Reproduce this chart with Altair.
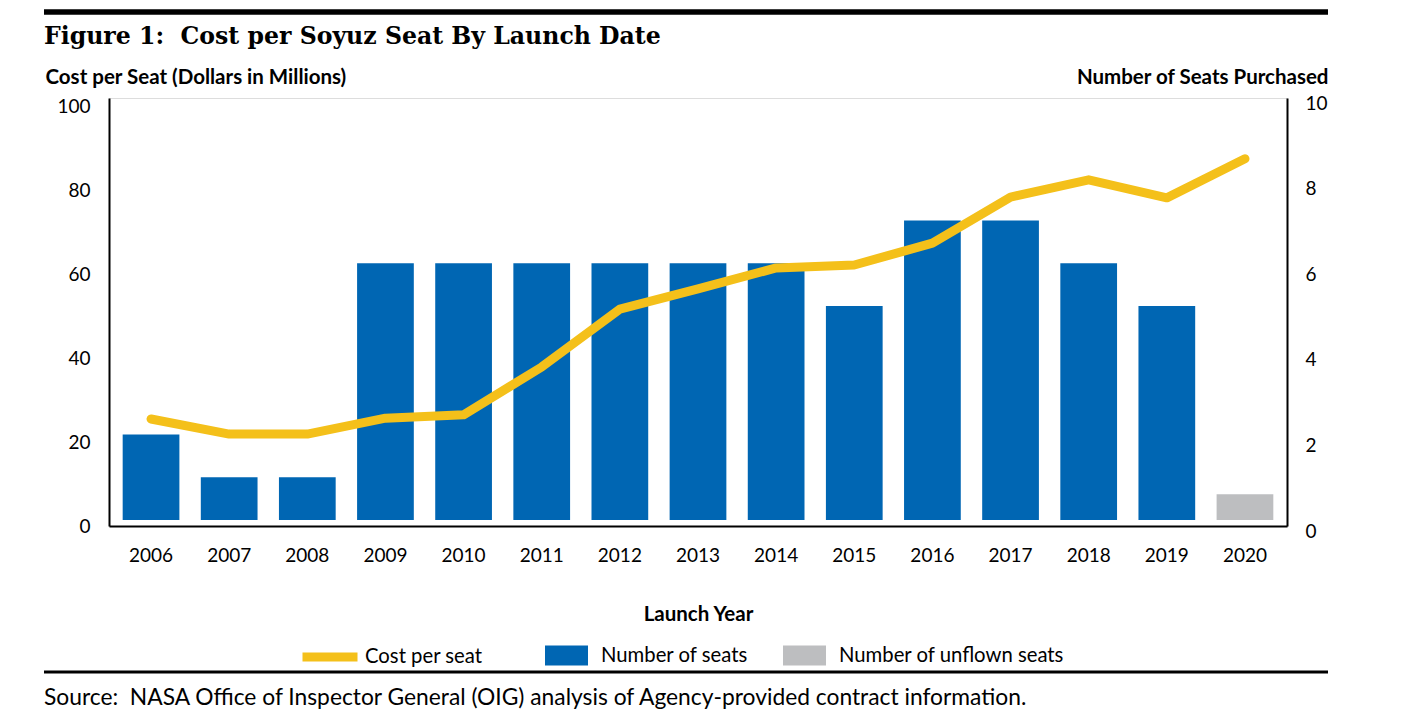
import altair as alt
import pandas as pd

years = ["2006", "2007", "2008", "2009", "2010", "2011", "2012", "2013",
         "2014", "2015", "2016", "2017", "2018", "2019", "2020"]
cost_per_seat = [25.5, 21.9, 21.9, 25.7, 26.5, 37.9, 51.7, 56.5,
                 61.5, 62.2, 67.4, 78.4, 82.5, 78.2, 87.5]
seats = [2, 1, 1, 6, 6, 6, 6, 6, 6, 5, 7, 7, 6, 5, 0]
unflown_seats = [0, 0, 0, 0, 0, 0, 0, 0, 0, 0, 0, 0, 0, 0, 0.6]

left_ticks = [0, 20, 40, 60, 80, 100]
right_ticks = [0, 2, 4, 6, 8, 10]

title_text = "Figure 1:\u00a0 Cost per Soyuz Seat By Launch Date"
left_title = "Cost per Seat (Dollars in Millions)"
right_title = "Number of Seats Purchased"
x_title = "Launch Year"
source_text = "Source:\u00a0 NASA Office of Inspector General (OIG) analysis of Agency-provided contract information."
line_label = "Cost per seat"
bar_labels = ["Number of seats", "Number of unflown seats"]

BLUE = "#0066b3"
GRAY = "#bdbec0"
YELLOW = "#f4c01a"
FONT = "Lato"

df = pd.DataFrame({
    "year": years,
    "cost": cost_per_seat,
    bar_labels[0]: seats,
    bar_labels[1]: unflown_seats,
})

x_enc = alt.X(
    "year:O",
    sort=years,
    scale=alt.Scale(paddingInner=0.274, paddingOuter=0.175),
    axis=alt.Axis(
        title=x_title, labelAngle=0, ticks=False, domainColor="black",
        domainWidth=2, labelFont=FONT, labelFontSize=19, labelColor="black",
        labelPadding=20, titleFont=FONT, titleFontSize=20.5, titleFontWeight="bold",
        titleColor="black", titleY=88, titleBaseline="middle",
    ),
)

bars = (
    alt.Chart(df)
    .transform_fold(bar_labels, as_=["series", "value"])
    .transform_filter("datum.value > 0")
    .mark_bar(yOffset=-6, y2Offset=-6)
    .encode(
        x=x_enc,
        y=alt.Y(
            "value:Q", stack=None,
            scale=alt.Scale(domain=[0, 10], nice=False, zero=True),
            axis=alt.Axis(
                orient="right", values=right_ticks, ticks=False, grid=False,
                domainColor="black", domainWidth=2, labelFont=FONT,
                labelFontSize=19, labelColor="black", labelPadding=18,
                labelOffset=5, labelAlign="left",
                title=right_title, titleAngle=0, titleAlign="right",
                titleBaseline="middle", titleX=41, titleY=-21, titleFont=FONT,
                titleFontSize=20.5, titleFontWeight="bold", titleColor="black",
            ),
        ),
        y2=alt.datum(0),
        fill=alt.Fill(
            "series:N",
            scale=alt.Scale(domain=bar_labels, range=[BLUE, GRAY]),
            legend=alt.Legend(
                orient="none", direction="horizontal", legendX=436, legendY=536,
                title=None, symbolType="M-1,-0.465L1,-0.465L1,0.465L-1,0.465Z",
                symbolSize=1849, symbolStrokeWidth=0, symbolOpacity=1,
                labelFont=FONT, labelFontSize=20.3, labelColor="black",
                labelOffset=13, columnPadding=35, padding=0, labelLimit=400,
            ),
        ),
    )
)

line = (
    alt.Chart(df)
    .transform_calculate(series="'" + line_label + "'")
    .mark_line(strokeWidth=9, strokeCap="round", strokeJoin="round")
    .encode(
        x=x_enc,
        y=alt.Y(
            "cost:Q",
            scale=alt.Scale(domain=[0, 102], nice=False),
            axis=alt.Axis(
                orient="left", values=left_ticks, ticks=False, grid=False,
                domainColor="black", domainWidth=2, labelFont=FONT,
                labelFontSize=19, labelColor="black", labelPadding=19,
                title=left_title, titleAngle=0, titleAlign="left",
                titleBaseline="middle", titleX=-64, titleY=-21, titleFont=FONT,
                titleFontSize=20.5, titleFontWeight="bold", titleColor="black",
            ),
        ),
        stroke=alt.Stroke(
            "series:N",
            scale=alt.Scale(domain=[line_label], range=[YELLOW]),
            legend=alt.Legend(
                orient="none", legendX=189, legendY=527, title=None,
                symbolType="stroke", symbolStrokeWidth=9, symbolSize=3025,
                labelFont=FONT, labelFontSize=20.3, labelColor="black",
                labelOffset=3, padding=0, labelLimit=400,
            ),
        ),
    )
)

one = pd.DataFrame({"k": [0]})
top_rule = alt.Chart(one).mark_rule(color="black", strokeWidth=5.5).encode(
    x=alt.value(-65), x2=alt.value(1219), y=alt.value(-86)
)
bottom_rule = alt.Chart(one).mark_rule(color="black", strokeWidth=3).encode(
    x=alt.value(-65), x2=alt.value(1219), y=alt.value(574)
)
title = (
    alt.Chart(pd.DataFrame({"t": [title_text]}))
    .mark_text(align="left", baseline="middle", font="DejaVu Serif",
               fontSize=23.6, fontWeight="bold", color="black")
    .encode(x=alt.value(-65), y=alt.value(-61), text="t:N")
)
source = (
    alt.Chart(pd.DataFrame({"t": [source_text]}))
    .mark_text(align="left", baseline="middle", font=FONT, fontSize=22.8, color="black")
    .encode(x=alt.value(-65), y=alt.value(600), text="t:N")
)

chart = (
    alt.layer(bars, line, top_rule, bottom_rule, title, source)
    .resolve_scale(y="independent", fill="independent", stroke="independent")
    .properties(
        width=1178,
        height=428,
        autosize=alt.AutoSizeParams(type="none"),
        padding={"left": 101, "top": 90, "right": 100, "bottom": 190},
    )
    .configure_view(stroke=None)
    .configure(background="white")
)

chart.save("out.html", embed_options={"renderer": "svg", "actions": False})
